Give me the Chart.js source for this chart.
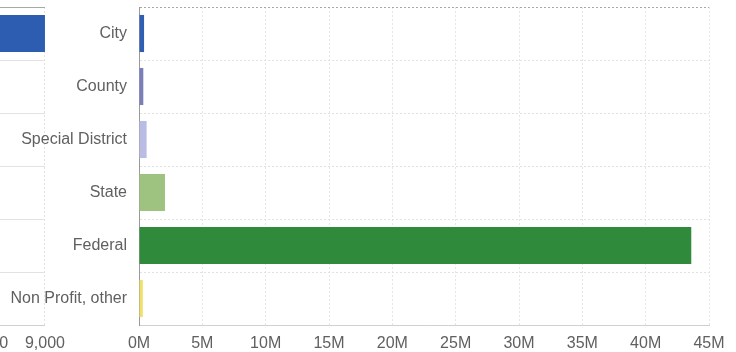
<!DOCTYPE html>
<html>
<head>
<meta charset="utf-8">
<script src="https://cdn.jsdelivr.net/npm/chart.js@4/dist/chart.umd.min.js"></script>
<style>
  html, body { margin: 0; padding: 0; background: #fff; overflow: hidden; }
  #wrap { position: relative; width: 736px; height: 352px; overflow: hidden; }
  #leftBox { position: absolute; left: -480px; top: 0; width: 554px; height: 352px; }
  #rightBox { position: absolute; left: 0; top: 0; width: 736px; height: 352px; }
</style>
</head>
<body>
<div id="wrap">
  <div id="leftBox"><canvas id="countChart"></canvas></div>
  <div id="rightBox"><canvas id="amountChart"></canvas></div>
</div>
<script>
// categories shared by both panels
const categories = ['City', 'County', 'Special District', 'State', 'Federal', 'Non Profit, other'];

// left panel (cut off by the scan) - only the City bar is visible
const countValues = [9000, null, null, null, null, null];
const countTicks = [0, 1000, 2000, 3000, 4000, 5000, 6000, 7000, 8000, 9000];

// right panel, dollars
const amountValues = [400000, 340000, 600000, 2050000, 43600000, 300000];
const amountTicks = [0, 5e6, 10e6, 15e6, 20e6, 25e6, 30e6, 35e6, 40e6, 45e6];

const barColors = ['#2f5fb3', '#7b7fb8', '#b9bde3', '#9ec27f', '#2f8a3c', '#efe06a'];

Chart.defaults.font.family = '"Liberation Sans", Arial, sans-serif';
Chart.defaults.color = '#606060';
Chart.defaults.animation = false;

// keep the plot area where the scan has it, whatever the label sizes are
const noTickPadding = (scale) => {
    scale.paddingTop = 0;
    scale.paddingBottom = 0;
};

new Chart(document.getElementById('countChart'), {
    type: 'bar',
    data: {
        labels: categories,
        datasets: [{
            data: countValues,
            backgroundColor: '#2c5db0',
            barPercentage: 0.7,
            categoryPercentage: 1
        }]
    },
    options: {
        indexAxis: 'y',
        responsive: true,
        maintainAspectRatio: false,
        layout: { padding: { top: 7, right: 29, left: 3, bottom: 0 } },
        plugins: { legend: { display: false }, tooltip: { enabled: false } },
        scales: {
            x: {
                min: 0,
                max: 9000,
                afterBuildTicks: (scale) => { scale.ticks = countTicks.map(v => ({ value: v })); },
                ticks: { font: { size: 16 }, padding: 9 },
                grid: { color: '#e2e2e2', drawTicks: false },
                border: { display: true, color: '#d0d0d0', dash: [2, 2] },
                afterFit: (scale) => { scale.height = 27; }
            },
            y: {
                ticks: { display: false },
                grid: { color: (c) => c.index === 0 ? '#a8a8a8' : '#e2e2e2', drawTicks: false, offset: true },
                border: { display: false }
            }
        }
    }
});

new Chart(document.getElementById('amountChart'), {
    type: 'bar',
    data: {
        labels: categories,
        datasets: [{
            data: amountValues,
            backgroundColor: barColors,
            barPercentage: 0.7,
            categoryPercentage: 1
        }]
    },
    options: {
        indexAxis: 'y',
        responsive: true,
        maintainAspectRatio: false,
        layout: { padding: { top: 7, right: 27, left: 0, bottom: 0 } },
        plugins: { legend: { display: false }, tooltip: { enabled: false } },
        scales: {
            x: {
                min: 0,
                max: 45e6,
                afterBuildTicks: (scale) => { scale.ticks = amountTicks.map(v => ({ value: v })); },
                ticks: {
                    font: { size: 16 },
                    padding: 9,
                    callback: (v) => (v / 1e6) + 'M'
                },
                grid: { color: '#e6e6e6', drawTicks: false },
                border: { display: true, color: '#d0d0d0', dash: [2, 2] },
                afterFit: (scale) => { scale.height = 27; }
            },
            y: {
                ticks: { font: { size: 16 }, padding: 12 },
                grid: { color: (c) => c.index === 0 ? '#a8a8a8' : '#e2e2e2', drawTicks: false, offset: true },
                border: { display: true, color: '#9a9a9a', dash: [2, 2] },
                afterFit: (scale) => { scale.width = 139; noTickPadding(scale); }
            }
        }
    }
});
</script>
</body>
</html>
